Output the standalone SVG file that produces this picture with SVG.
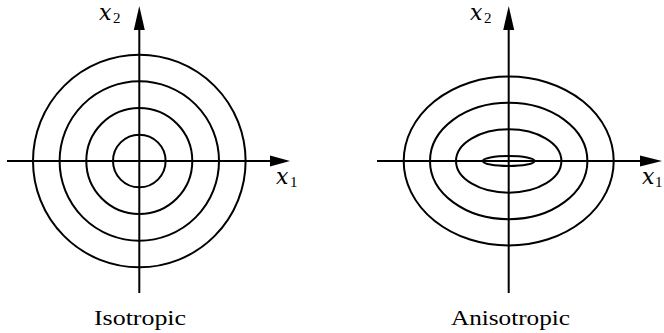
<svg xmlns="http://www.w3.org/2000/svg" width="664" height="333" viewBox="0 0 664 333">
<style>
.c{fill:none;stroke:#000;stroke-width:2}
.ax{stroke:#000;stroke-width:2}
.v{font-family:"DejaVu Serif",serif;font-style:italic;font-size:22px;fill:#000}
.s{font-family:"Liberation Serif",serif;font-size:15px;fill:#000}
.cap{font-family:"Liberation Serif",serif;font-size:22px;fill:#000}
</style>
<rect width="664" height="333" fill="#fff"/>
<g id="iso">
<circle class="c" cx="139.3" cy="161" r="26.3"/>
<circle class="c" cx="139.3" cy="161" r="53"/>
<circle class="c" cx="139.3" cy="161" r="79.7"/>
<circle class="c" cx="139.3" cy="161" r="106.3"/>
</g>
<g id="aniso">
<ellipse class="c" cx="508.7" cy="161" rx="26" ry="5"/>
<ellipse class="c" cx="508.7" cy="161" rx="52.7" ry="31.7"/>
<ellipse class="c" cx="508.7" cy="161" rx="78.7" ry="58.2"/>
<ellipse class="c" cx="508.7" cy="161" rx="105" ry="84.5"/>
</g>
<g id="axes">
<line class="ax" x1="7" y1="161" x2="272" y2="161"/>
<polygon points="270,155.5 290,161 270,166.5"/>
<line class="ax" x1="139.3" y1="293" x2="139.3" y2="28"/>
<polygon points="133.8,30 139.3,6 144.8,30"/>
<line class="ax" x1="377" y1="161" x2="642" y2="161"/>
<polygon points="640,155.5 662,161 640,166.5"/>
<line class="ax" x1="508.7" y1="293" x2="508.7" y2="28"/>
<polygon points="503.2,30 508.7,6 514.2,30"/>
</g>
<g id="labels">
<text class="v" x="99" y="20">x</text><text class="s" x="113" y="23">2</text>
<text class="v" x="276" y="184">x</text><text class="s" x="290" y="187">1</text>
<text class="v" x="470" y="20">x</text><text class="s" x="484" y="23">2</text>
<text class="v" x="642" y="184">x</text><text class="s" x="655" y="187">1</text>
<text class="cap" x="94" y="325" textLength="92" lengthAdjust="spacingAndGlyphs">Isotropic</text>
<text class="cap" x="451" y="325" textLength="119" lengthAdjust="spacingAndGlyphs">Anisotropic</text>
</g>
</svg>
